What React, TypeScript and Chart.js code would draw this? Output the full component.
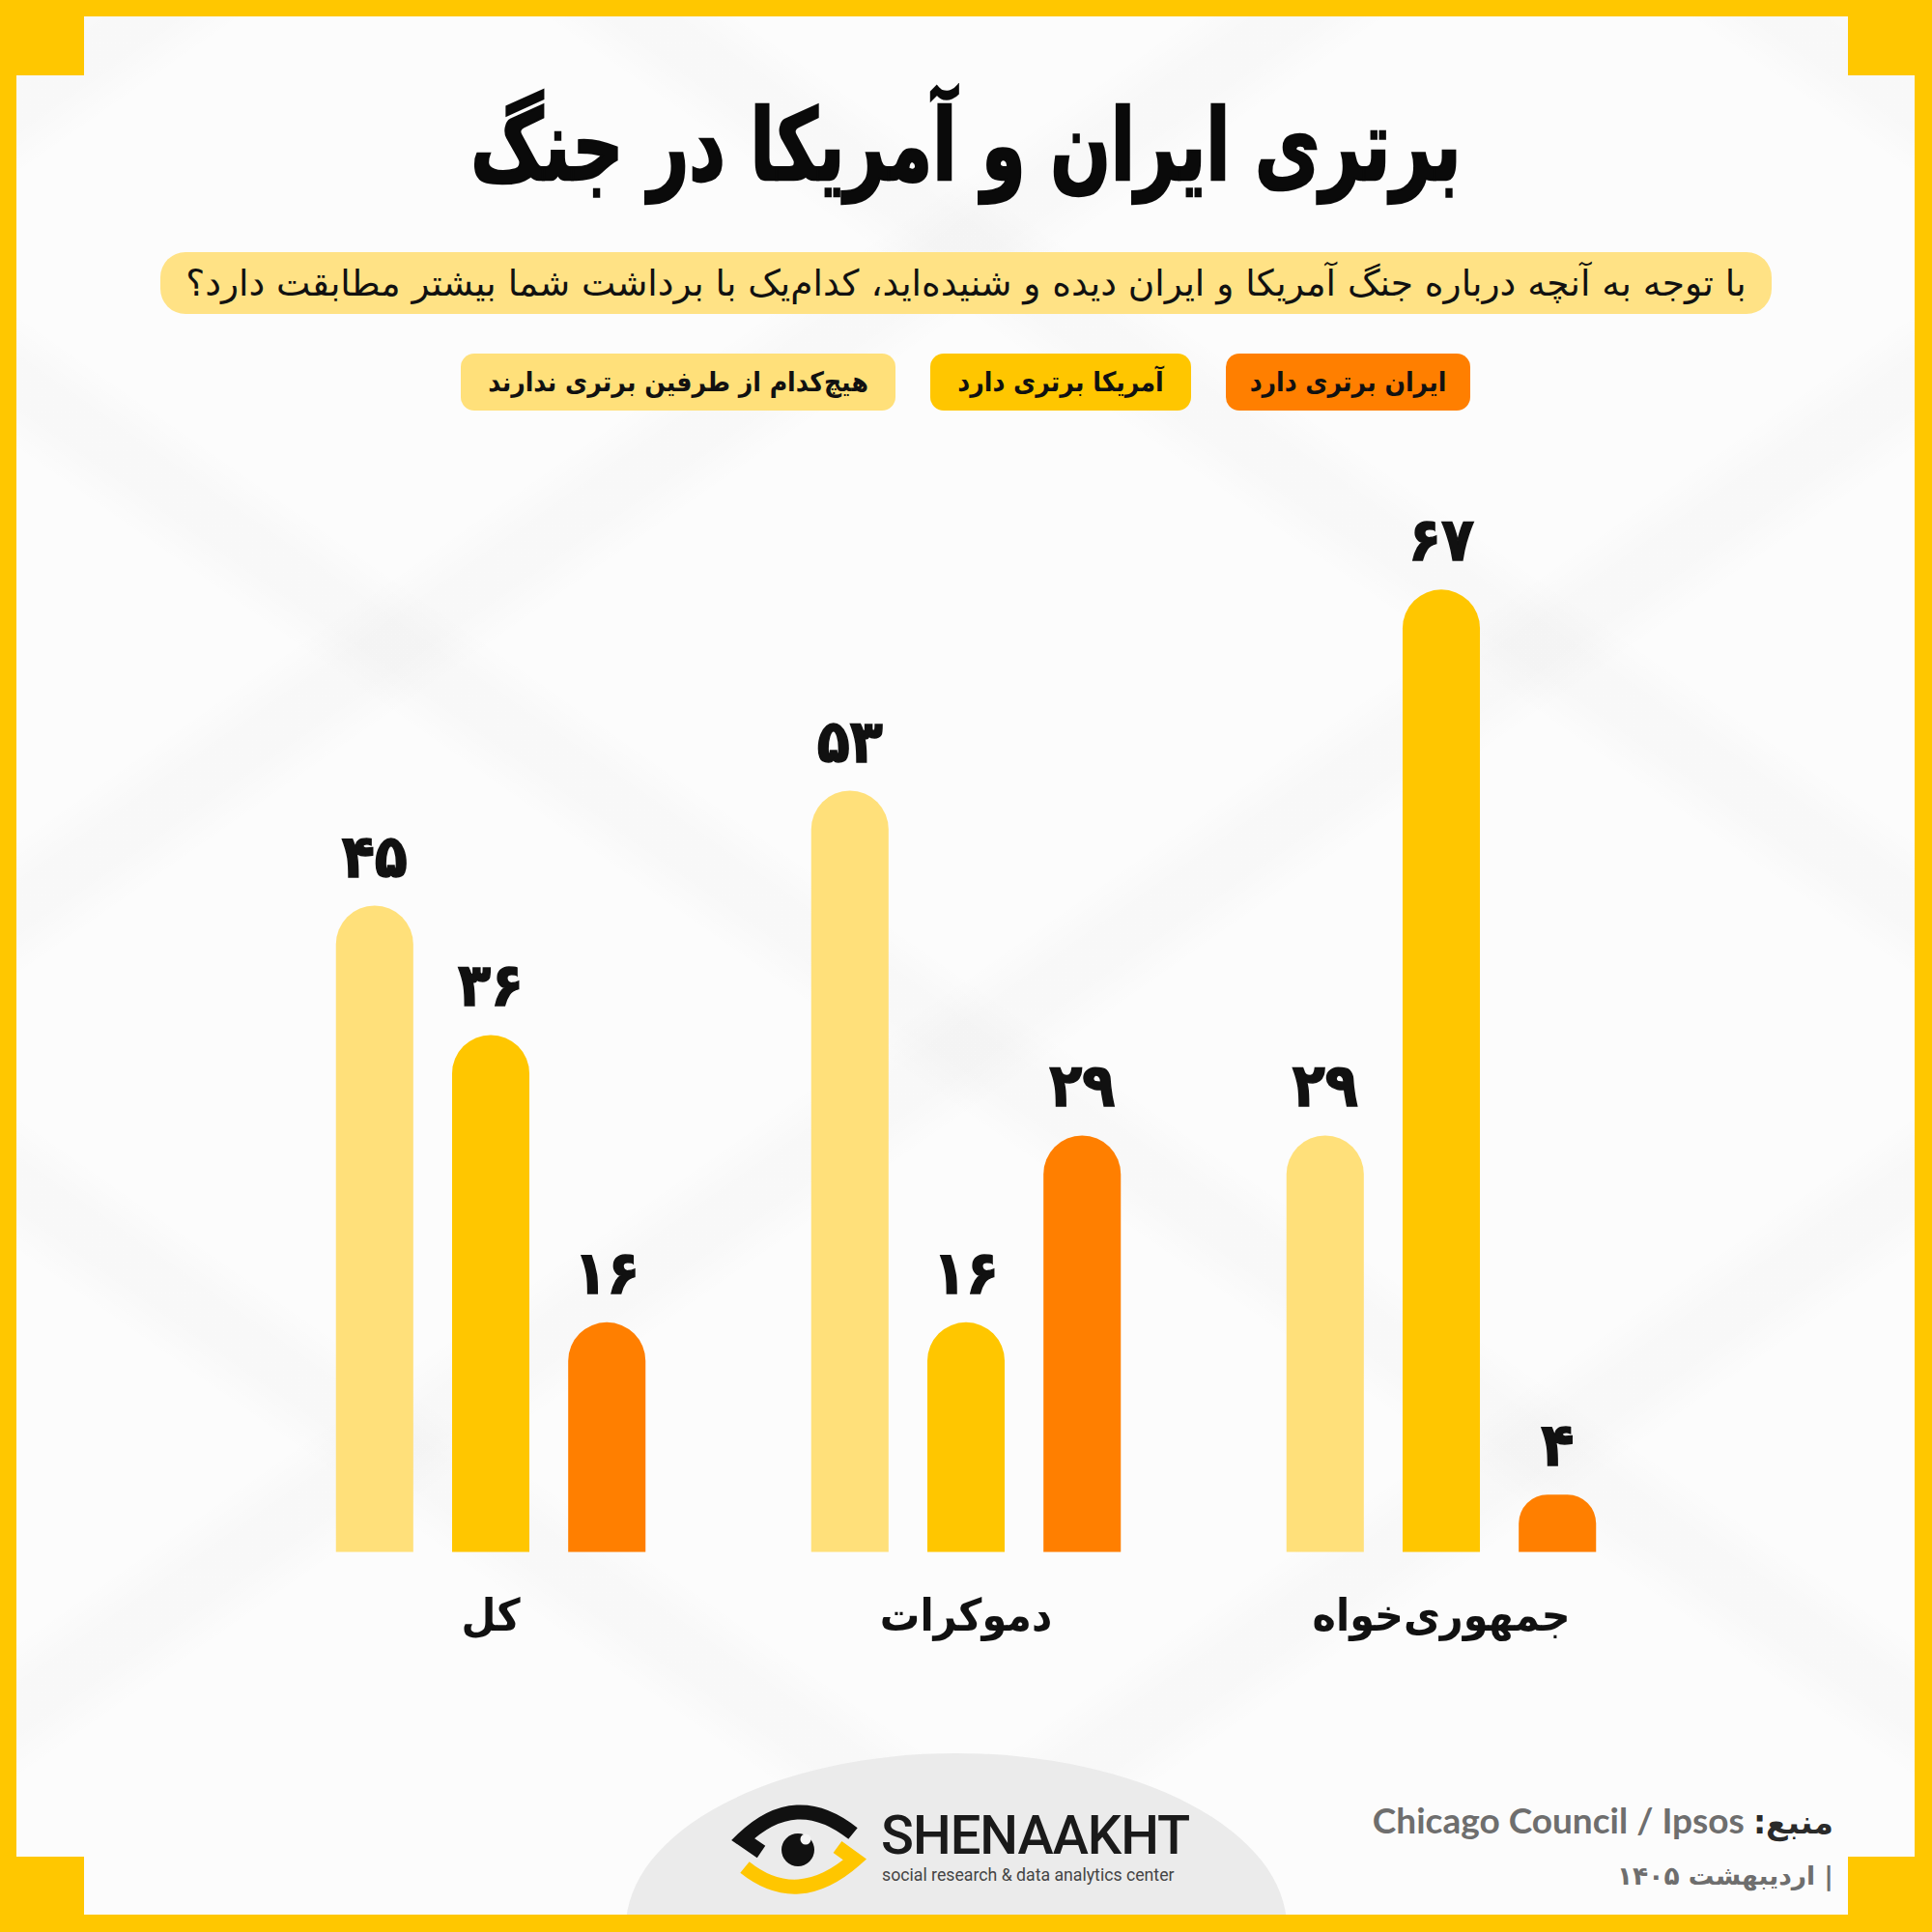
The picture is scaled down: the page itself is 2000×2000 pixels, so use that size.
import React, { useEffect, useRef } from "react";
import { Chart, registerables } from "chart.js";

Chart.register(...registerables);

// ---------- data ----------
const categories = ["کل", "دموکرات", "جمهوری‌خواه"];
const seriesNames = [
  "هیچ‌کدام از طرفین برتری ندارند",
  "آمریکا برتری دارد",
  "ایران برتری دارد",
];
const noneValues = [45, 53, 29];
const usaValues = [36, 16, 67];
const iranValues = [16, 29, 4];
const seriesColors = ["#FFE07A", "#FFC600", "#FF7F00"];

const titleText = "برتری ایران و آمریکا در جنگ";
const subtitleText =
  "با توجه به آنچه درباره جنگ آمریکا و ایران دیده و شنیده‌اید، کدام‌یک با برداشت شما بیشتر مطابقت دارد؟";
const sourceLabel = "منبع:";
const sourceText = "Chicago Council / Ipsos";
const dateText = "| اردیبهشت ۱۴۰۵";

const FA = "'DejaVu Sans', sans-serif";
const FAC = "'DejaVu Sans Condensed', 'DejaVu Sans', sans-serif";
const toFa = (n: number) => String(n).replace(/\d/g, (d) => "۰۱۲۳۴۵۶۷۸۹"[Number(d)]);

const valueLabels = {
  id: "valueLabels",
  afterDatasetsDraw(chart: any) {
    const ctx = chart.ctx;
    ctx.save();
    ctx.font = `bold 62px ${FAC}`;
    ctx.fillStyle = "#111111";
    ctx.strokeStyle = "#111111";
    ctx.lineWidth = 1.5;
    ctx.textAlign = "center";
    ctx.textBaseline = "alphabetic";
    chart.data.datasets.forEach((ds: any, i: number) => {
      const meta = chart.getDatasetMeta(i);
      meta.data.forEach((bar: any, j: number) => {
        const t = toFa(ds.data[j]);
        ctx.fillText(t, bar.x, bar.y - 30);
        ctx.strokeText(t, bar.x, bar.y - 30);
      });
    });
    ctx.restore();
  },
};

function ChartCanvas() {
  const ref = useRef<HTMLCanvasElement | null>(null);
  useEffect(() => {
    if (!ref.current) return;
    const values = [noneValues, usaValues, iranValues];
    const chart = new Chart(ref.current, {
      type: "bar",
      data: {
        labels: categories,
        datasets: values.map((v, i) => ({
          label: seriesNames[i],
          data: v,
          backgroundColor: seriesColors[i],
          borderRadius: { topLeft: 40, topRight: 40, bottomLeft: 0, bottomRight: 0 },
          categoryPercentage: 0.733,
          barPercentage: 0.666,
        })),
      },
      options: {
        animation: false,
        responsive: false,
        maintainAspectRatio: false,
        layout: { padding: { left: 262, right: 262, top: 15, bottom: 0 } },
        plugins: {
          legend: { display: false },
          tooltip: { enabled: false },
          title: { display: false },
        },
        scales: {
          x: {
            grid: { display: false, drawTicks: false },
            border: { display: false },
            ticks: {
              padding: 42,
              color: "#111111",
              maxRotation: 0,
              font: { family: FAC, size: 46, weight: "bold" },
            },
          },
          y: { display: false, min: 0, max: 80 },
        },
      },
      plugins: [valueLabels],
    } as any);
    return () => chart.destroy();
  }, []);
  return (
    <canvas
      ref={ref}
      width={2000}
      height={1344}
      style={{ position: "absolute", left: 0, top: 402, width: 2000, height: 1344 }}
    />
  );
}

function Eye() {
  return (
    <svg
      width={180}
      height={120}
      viewBox="0 0 180 120"
      style={{ position: "absolute", left: 740, top: 1860 }}
    >
      <path d="M 48 57 L 29 44 Q 84 -9 143 38" stroke="#111" strokeWidth={15} fill="none" strokeLinejoin="miter" />
      <path d="M 31 73 Q 86 117 145 65 L 127 52" stroke="#FFC600" strokeWidth={15} fill="none" strokeLinejoin="miter" />
      <circle cx={86} cy={55} r={17} fill="#111" />
      <circle cx={94} cy={44} r={5.5} fill="#F6F6F6" />
    </svg>
  );
}

export default function App() {
  const yellow = "#FFC700";
  const pillBase: React.CSSProperties = {
    position: "absolute",
    top: 366,
    height: 59,
    borderRadius: 14,
    display: "flex",
    alignItems: "center",
    justifyContent: "center",
    fontFamily: FAC,
    fontWeight: "bold",
    fontSize: 28,
    color: "#111",
    direction: "rtl",
    whiteSpace: "nowrap",
  };
  const block = (l: number, t: number): React.CSSProperties => ({
    position: "absolute",
    left: l,
    top: t,
    width: 87,
    height: 78,
    background: yellow,
  });
  const band = "rgba(0,0,0,0.014)";
  return (
    <div
      style={{
        position: "fixed",
        left: 0,
        top: 0,
        width: 2000,
        height: 2000,
        background: yellow,
        overflow: "hidden",
      }}
    >
      <div
        style={{
          position: "absolute",
          left: 17,
          top: 17,
          width: 1965,
          height: 1965,
          overflow: "hidden",
          backgroundColor: "#FCFCFC",
          backgroundImage: `repeating-linear-gradient(35deg, rgba(0,0,0,0) 0px, rgba(0,0,0,0) 560px, ${band} 600px, ${band} 640px, rgba(0,0,0,0) 680px), repeating-linear-gradient(-35deg, rgba(0,0,0,0) 0px, rgba(0,0,0,0) 560px, ${band} 600px, ${band} 640px, rgba(0,0,0,0) 680px)`,
        }}
      >
        <div
          style={{
            position: "absolute",
            left: 648 - 17,
            top: 1815 - 17,
            width: 684,
            height: 360,
            borderRadius: "50%",
            background: "#EBEBEB",
          }}
        />
      </div>
      <div style={block(0, 0)} />
      <div style={block(1913, 0)} />
      <div style={block(0, 1922)} />
      <div style={block(1913, 1922)} />

      <div
        style={{
          position: "absolute",
          left: 0,
          width: 2000,
          top: 82,
          textAlign: "center",
          transform: "scaleX(0.8)",
          transformOrigin: "1000px 0px",
        }}
      >
        <span
          dir="rtl"
          style={{
            fontFamily: FAC,
            fontWeight: "bold",
            fontSize: 102,
            lineHeight: "138px",
            color: "#0A0A0A",
            WebkitTextStroke: "2.5px #0A0A0A",
          }}
        >
          {titleText}
        </span>
      </div>

      <div
        dir="rtl"
        style={{
          position: "absolute",
          left: 166,
          top: 261,
          width: 1668,
          height: 64,
          borderRadius: 26,
          background: "#FFE285",
          display: "flex",
          alignItems: "center",
          justifyContent: "center",
          fontFamily: FA,
          fontSize: 37.5,
          color: "#111",
          whiteSpace: "nowrap",
        }}
      >
        {subtitleText}
      </div>

      <div dir="rtl" style={{ ...pillBase, left: 1269, width: 253, background: seriesColors[2] }}>
        {seriesNames[2]}
      </div>
      <div dir="rtl" style={{ ...pillBase, left: 963, width: 270, background: seriesColors[1] }}>
        {seriesNames[1]}
      </div>
      <div dir="rtl" style={{ ...pillBase, left: 477, width: 450, background: seriesColors[0] }}>
        {seriesNames[0]}
      </div>

      <ChartCanvas />

      <Eye />
      <div
        style={{
          position: "absolute",
          left: 912,
          top: 1870,
          fontFamily: "Roboto, sans-serif",
          fontWeight: 500,
          fontSize: 56,
          lineHeight: "60px",
          color: "#1A1A1A",
          letterSpacing: -1,
        }}
      >
        SHENAAKHT
      </div>
      <div
        style={{
          position: "absolute",
          left: 913,
          top: 1929,
          fontFamily: "Roboto, sans-serif",
          fontSize: 17.7,
          lineHeight: "24px",
          color: "#444",
        }}
      >
        social research &amp; data analytics center
      </div>

      <div
        dir="rtl"
        style={{
          position: "absolute",
          right: 102,
          top: 1860,
          fontFamily: "Lato, sans-serif",
          fontWeight: "bold",
          fontSize: 37,
          lineHeight: "48px",
          whiteSpace: "nowrap",
        }}
      >
        <span style={{ fontFamily: FA, fontSize: 33, color: "#2A2A2A" }}>{sourceLabel}</span>{" "}
        <span dir="ltr" style={{ color: "#6E6E6E" }}>{sourceText}</span>
      </div>
      <div
        dir="rtl"
        style={{
          position: "absolute",
          right: 102,
          top: 1921,
          fontFamily: FA,
          fontWeight: "bold",
          fontSize: 26.5,
          lineHeight: "42px",
          color: "#6E6E6E",
          whiteSpace: "nowrap",
        }}
      >
        {dateText}
      </div>
    </div>
  );
}
